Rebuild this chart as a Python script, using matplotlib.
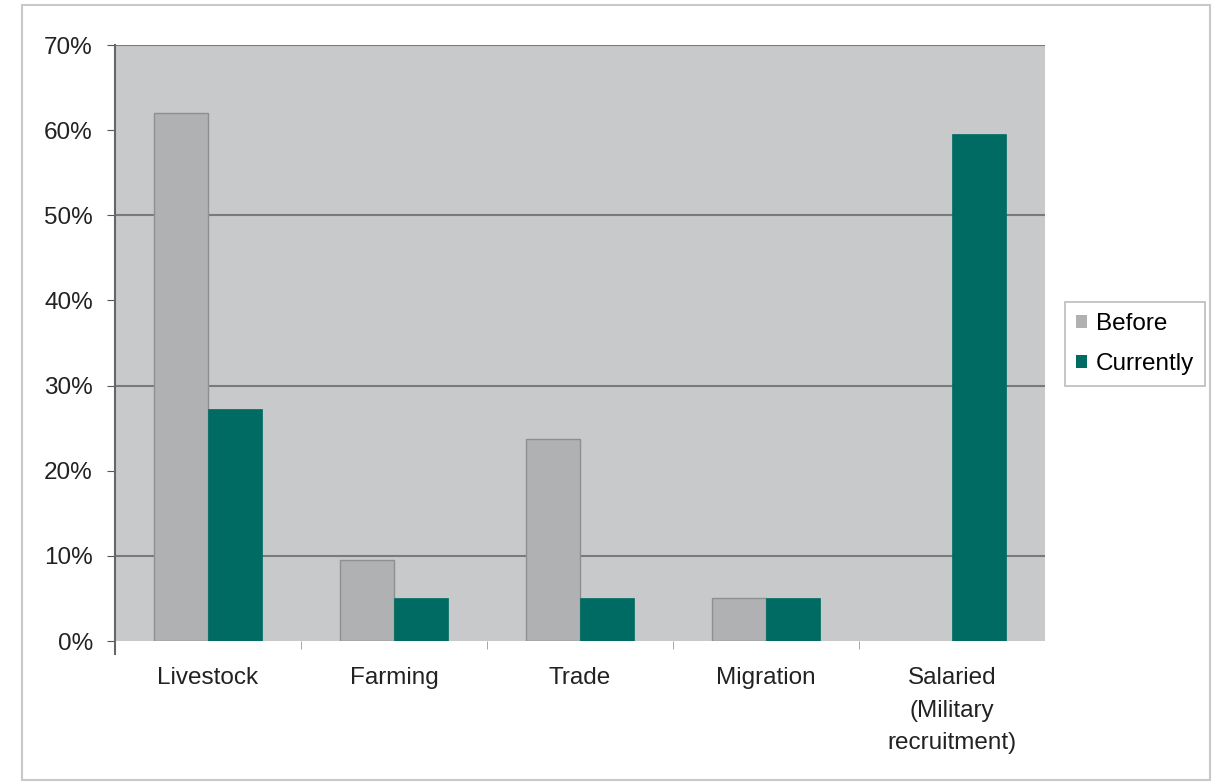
import numpy as np
import matplotlib.pyplot as plt
from matplotlib.patches import Rectangle

categories = ["Livestock", "Farming", "Trade", "Migration", "Salaried\n(Military\nrecruitment)"]
before = [62, 9.5, 23.7, 5, 0]
currently = [27.3, 5, 5, 5, 59.5]

plt.rcParams['font.family'] = ['Liberation Sans', 'DejaVu Sans']

fig = plt.figure(figsize=(12.12, 7.82), dpi=100)
fig.patches.append(Rectangle((22/1212, 2/782), 1188/1212, 775/782, transform=fig.transFigure,
                             fill=False, edgecolor='#c8c8c8', linewidth=1.5))
ax = fig.add_axes([115/1212, 1 - 641/782, 930/1212, 596/782])
ax.set_facecolor('#c8c9cb')

x = np.arange(len(categories))
w = 0.29
ax.bar(x - w/2, before, w, color='#b0b1b3', edgecolor=['#8e8f91' if v > 0 else 'none' for v in before],
       linewidth=1, zorder=3, label='Before')
ax.bar(x + w/2, currently, w, color='#006b63', edgecolor='#006b63', linewidth=0.5, zorder=3, label='Currently')

ax.set_xlim(-0.5, 4.5)
ax.set_ylim(0, 70)
ax.set_yticks(range(0, 71, 10))
ax.set_yticklabels([f"{v}%" for v in range(0, 71, 10)], fontsize=17.5, color='#222222')
for v in [10, 30, 50, 70]:
    ax.axhline(v, color='#7a7a7a', linewidth=1.5, zorder=1)

ax.set_xticks(x)
ax.set_xticklabels(categories, fontsize=17.5, color='#222222', linespacing=1.6)
ax.tick_params(axis='x', length=0, pad=19)
ax.set_xticks(np.arange(0.5, 4.5, 1), minor=True)
ax.tick_params(axis='x', which='minor', length=6, color='#999999')
ax.tick_params(axis='y', length=6, color='#555555', pad=10)

for s in ['top', 'right', 'bottom']:
    ax.spines[s].set_visible(False)
ax.spines['left'].set_color('#666666')
ax.spines['left'].set_linewidth(1.5)
ax.spines['left'].set_bounds(-1.5, 70)
ax.set_clip_on(False)

leg = ax.legend(loc='center left', bbox_to_anchor=(1.022, 0.498), fontsize=17.5, frameon=True,
                fancybox=False, edgecolor='#aaaaaa', handlelength=0.45, handleheight=0.45,
                handletextpad=0.35, borderpad=0.45, labelspacing=0.75, borderaxespad=0)
leg.get_frame().set_linewidth(1.2)
for h in leg.legend_handles:
    h.set_edgecolor('none')

fig.savefig('out.png', dpi=100)
